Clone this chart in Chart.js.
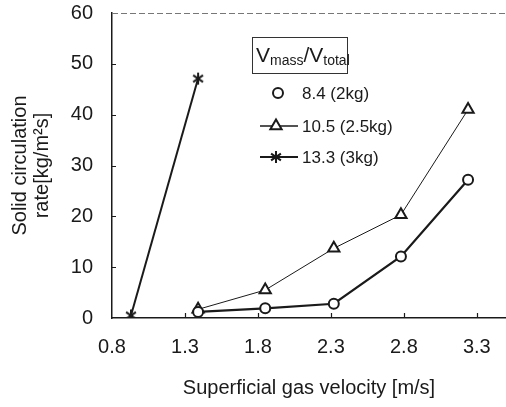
<!DOCTYPE html>
<html><head><meta charset="utf-8">
<script src="https://cdn.jsdelivr.net/npm/chart.js@4/dist/chart.umd.min.js"></script>
<style>html,body{margin:0;padding:0;background:#fff}#wrap{width:506px;height:407px;position:relative}</style>
</head><body><div id="wrap"><canvas id="c" width="506" height="407"></canvas></div>
<script>
const xTicks = [0.8, 1.3, 1.8, 2.3, 2.8, 3.3];
const yTicks = [0, 10, 20, 30, 40, 50, 60];
const seriesLabels = ['8.4 (2kg)', '10.5 (2.5kg)', '13.3 (3kg)'];
const velocity2kg = [1.39, 1.85, 2.32, 2.78, 3.24];
const rate2kg = [1.2, 1.9, 2.8, 12.1, 27.2];
const velocity25kg = [1.39, 1.85, 2.32, 2.78, 3.24];
const rate25kg = [1.7, 5.5, 13.7, 20.3, 41.0];
const velocity3kg = [0.93, 1.39];
const rate3kg = [0.5, 47.1];

const INK = '#1a1a1a';
const FONT = '"Liberation Sans", Arial, sans-serif';

function starCanvas(r, lw) {
  const s = Math.ceil(2 * r + lw + 2);
  const cv = document.createElement('canvas');
  cv.width = s; cv.height = s;
  const g = cv.getContext('2d');
  g.strokeStyle = INK; g.lineWidth = lw; g.lineCap = 'butt';
  const c = s / 2;
  g.beginPath();
  for (const a of [90, 35, -35]) {
    const rad = a * Math.PI / 180;
    const dx = Math.cos(rad) * r, dy = Math.sin(rad) * r;
    g.moveTo(c - dx, c - dy); g.lineTo(c + dx, c + dy);
  }
  g.stroke();
  return cv;
}
const starImg = starCanvas(6, 2);

function pts(xs, ys) { return xs.map((x, i) => ({x: x, y: ys[i]})); }

const decor = {
  id: 'decor',
  afterDraw(chart) {
    const {ctx, chartArea: a, scales: {x, y}} = chart;
    ctx.save();
    // top dashed frame line
    ctx.strokeStyle = '#777'; ctx.lineWidth = 1; ctx.setLineDash([6, 3]);
    ctx.beginPath(); ctx.moveTo(a.left, a.top + 0.5); ctx.lineTo(a.right, a.top + 0.5); ctx.stroke();
    ctx.setLineDash([]);
    // inward tick marks
    ctx.strokeStyle = INK; ctx.lineWidth = 1.2;
    ctx.beginPath();
    xTicks.forEach(v => { const px = Math.round(x.getPixelForValue(v)) + 0.5; if (v > xTicks[0]) { ctx.moveTo(px, a.bottom); ctx.lineTo(px, a.bottom - 5); } });
    yTicks.forEach(v => { const py = Math.round(y.getPixelForValue(v)) + 0.5; if (v > 0 && v < 60) { ctx.moveTo(a.left, py); ctx.lineTo(a.left + 4, py); } });
    ctx.stroke();

    // legend box
    const bx = 252, by = 37, bw = 95, bh = 36;
    ctx.strokeStyle = '#333'; ctx.lineWidth = 1;
    ctx.strokeRect(bx + 0.5, by + 0.5, bw, bh);
    ctx.fillStyle = INK; ctx.textBaseline = 'alphabetic'; ctx.textAlign = 'left';
    let tx = bx + 4; const base = by + 25;
    const big = '21px ' + FONT, small = '14px ' + FONT;
    ctx.font = big; ctx.fillText('V', tx, base); tx += ctx.measureText('V').width;
    ctx.font = small; ctx.fillText('mass', tx, base + 3); tx += ctx.measureText('mass').width;
    ctx.font = big; ctx.fillText('/', tx, base); tx += ctx.measureText('/').width;
    ctx.fillText('V', tx, base); tx += ctx.measureText('V').width;
    ctx.font = small; ctx.fillText('total', tx, base + 3);

    // legend entries
    const rows = [93, 126, 157];
    const ds = chart.data.datasets;
    ctx.font = '17px ' + FONT; ctx.textBaseline = 'middle';
    rows.forEach((ry, i) => {
      const d = ds[i];
      ctx.strokeStyle = INK;
      if (i > 0) {
        ctx.lineWidth = i === 1 ? 1.3 : 2;
        ctx.beginPath(); ctx.moveTo(260, ry); ctx.lineTo(298, ry); ctx.stroke();
      }
      const mx = i === 0 ? 278 : 276;
      ctx.fillStyle = '#fff'; ctx.strokeStyle = INK; ctx.lineWidth = d.pointBorderWidth;
      Chart.helpers.drawPoint(ctx, {
        pointStyle: d.pointStyle, radius: d.pointRadius, borderWidth: d.pointBorderWidth, rotation: 0
      }, mx, ry);
      ctx.fillStyle = INK;
      ctx.fillText(d.label, 302, ry + 1);
    });
    ctx.restore();
  }
};

new Chart(document.getElementById('c'), {
  type: 'scatter',
  data: {
    datasets: [
      {label: seriesLabels[0], data: pts(velocity2kg, rate2kg), showLine: true, borderColor: INK, borderWidth: 2.2,
       pointStyle: 'circle', pointRadius: 5, pointBorderWidth: 2, pointBackgroundColor: '#fff', pointBorderColor: INK},
      {label: seriesLabels[1], data: pts(velocity25kg, rate25kg), showLine: true, borderColor: INK, borderWidth: 1,
       pointStyle: 'triangle', pointRadius: 6.5, pointBorderWidth: 2, pointBackgroundColor: '#fff', pointBorderColor: INK},
      {label: seriesLabels[2], data: pts(velocity3kg, rate3kg), showLine: true, borderColor: INK, borderWidth: 2,
       pointStyle: starImg, pointRadius: 6, pointBorderWidth: 2, pointBackgroundColor: INK, pointBorderColor: INK}
    ]
  },
  options: {
    responsive: false, animation: false, devicePixelRatio: 1,
    layout: {padding: {top: 13, right: 0, left: 0, bottom: 0}, autoPadding: false},
    plugins: {legend: {display: false}, tooltip: {enabled: false}},
    scales: {
      x: {
        type: 'linear', min: 0.8, max: 3.5,
        afterBuildTicks: s => { s.ticks = xTicks.map(v => ({value: v})); },
        afterFit: s => { s.height = 89; s.paddingLeft = 0; s.paddingRight = 0; },
        grid: {display: false, drawTicks: false},
        border: {display: true, color: INK, width: 1.5},
        ticks: {color: INK, font: {family: FONT, size: 20}, padding: 17, callback: v => v.toFixed(1), maxRotation: 0, autoSkip: false},
        title: {display: true, text: 'Superficial gas velocity [m/s]', color: INK, font: {family: FONT, size: 20}, padding: {top: 0, bottom: 7}}
      },
      y: {
        type: 'linear', min: 0, max: 60,
        afterBuildTicks: s => { s.ticks = yTicks.map(v => ({value: v})); },
        afterFit: s => { s.width = 112; s.paddingTop = 0; s.paddingBottom = 0; },
        grid: {display: false, drawTicks: false},
        border: {display: true, color: INK, width: 1.5},
        ticks: {color: INK, font: {family: FONT, size: 20}, padding: 19, autoSkip: false},
        title: {display: true, text: ['Solid circulation', 'rate[kg/m²s]'], color: INK, font: {family: FONT, size: 20, lineHeight: 1.08}, padding: {top: 10, bottom: 0}}
      }
    }
  },
  plugins: [decor]
});
</script>
</body></html>
